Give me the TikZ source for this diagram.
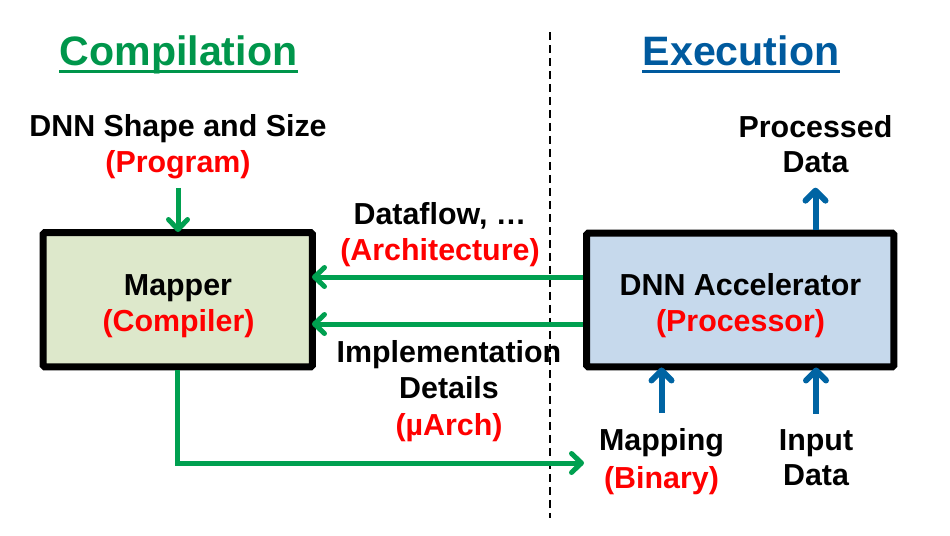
\documentclass[tikz,border=0pt]{standalone}
\usepackage{fontspec}
\setmainfont{Liberation Sans}
\usetikzlibrary{arrows.meta,calc}
\definecolor{gtitle}{RGB}{0,150,75}
\definecolor{garr}{RGB}{0,160,80}
\definecolor{btitle}{RGB}{0,90,158}
\definecolor{barr}{RGB}{0,100,163}
\definecolor{redt}{RGB}{255,0,0}
\definecolor{mapfill}{RGB}{221,232,203}
\definecolor{accfill}{RGB}{198,217,236}
\tikzset{
  txt/.style={font=\bfseries\fontsize{17.3pt}{20pt}\selectfont, inner sep=0pt, anchor=base},
  rtxt/.style={txt, text=redt},
  ttl/.style={font=\bfseries\fontsize{23.4pt}{28pt}\selectfont, inner sep=0pt, anchor=base},
  box/.style={draw=black, line width=0.14cm, rounded corners=1pt},
  garrow/.style={draw=garr, line width=0.1cm, -{Straight Barb[round, length=0.2cm, width=0.38cm]}},
  barrow/.style={draw=barr, line width=0.12cm, -{Straight Barb[round, length=0.2cm, width=0.4cm]}},
}
\begin{document}
\begin{tikzpicture}[x=0.02cm, y=-0.02cm]
\useasboundingbox (0,0) rectangle (950,535);
% titles
\node[ttl, text=gtitle] (comp) at (178.5,65) {Compilation};
\draw[gtitle, line width=0.06cm] ([yshift=-0.12cm]comp.base west) -- ([yshift=-0.12cm]comp.base east);
\node[ttl, text=btitle] (exec) at (741,65) {Execution};
\draw[btitle, line width=0.06cm] ([yshift=-0.12cm]exec.base west) -- ([yshift=-0.12cm]exec.base east);
% divider
\coordinate (dtop) at (549.5,32);
\coordinate (dbot) at (549.5,518);
\draw[black, line width=0.04cm, dash pattern=on 0.16cm off 0.1cm] (dtop) -- (dbot);
% boxes
\node[box, fill=mapfill, minimum width=5.39cm, minimum height=2.69cm] (map) at (177.75,299.75) {};
\node[box, fill=accfill, minimum width=6.15cm, minimum height=2.68cm] (acc) at (740.25,300) {};
\node[txt] (mapper) at (178,295) {Mapper};
\node[rtxt] (compiler) at (178.5,331) {(Compiler)};
\node[txt] (dnnacc) at (740.5,295) {DNN Accelerator};
\node[rtxt] (processor) at (740.5,331) {(Processor)};
% input labels
\node[txt] (shape) at (178,136) {DNN Shape and Size};
\node[rtxt] (program) at (178,172) {(Program)};
\node[txt] (processed) at (815.5,137) {Processed};
\node[txt] (pdata) at (815.5,172) {Data};
\node[txt] (dataflow) at (440,224) {Dataflow, …};
\node[rtxt] (arch) at (440,260) {(Architecture)};
\node[txt] (impl) at (449,362) {Implementation};
\node[txt] (details) at (449,398) {Details};
\node[rtxt] (uarch) at (449,435) {(µArch)};
\node[txt] (mapping) at (661.5,450) {Mapping};
\node[rtxt] (binary) at (661.5,488) {(Binary)};
\node[txt] (input) at (816,450) {Input};
\node[txt] (idata) at (816,485) {Data};
% green arrows
\draw[garrow, shorten <=0.18cm, shorten >=-0.06cm] (program.south) -- (program.south |- map.north);
\draw[garrow, shorten >=-0.08cm] ([yshift=0.46cm]acc.west) -- ([yshift=0.46cm]acc.west -| map.east);
\draw[garrow, shorten >=-0.08cm] ([yshift=-0.48cm]acc.west) -- ([yshift=-0.48cm]acc.west -| map.east);
\coordinate (mapin) at (584,463);
\draw[garrow] (map.south) |- (mapin);
% blue arrows
\draw[barrow, shorten >=-0.06cm] ([yshift=0.3cm]mapping.north) -- (mapping.north |- acc.south);
\draw[barrow, shorten >=-0.06cm] ([yshift=0.3cm]input.north) -- (input.north |- acc.south);
\draw[barrow] (pdata.south |- acc.north) -- ([yshift=-0.3cm]pdata.south);
\end{tikzpicture}
\end{document}
